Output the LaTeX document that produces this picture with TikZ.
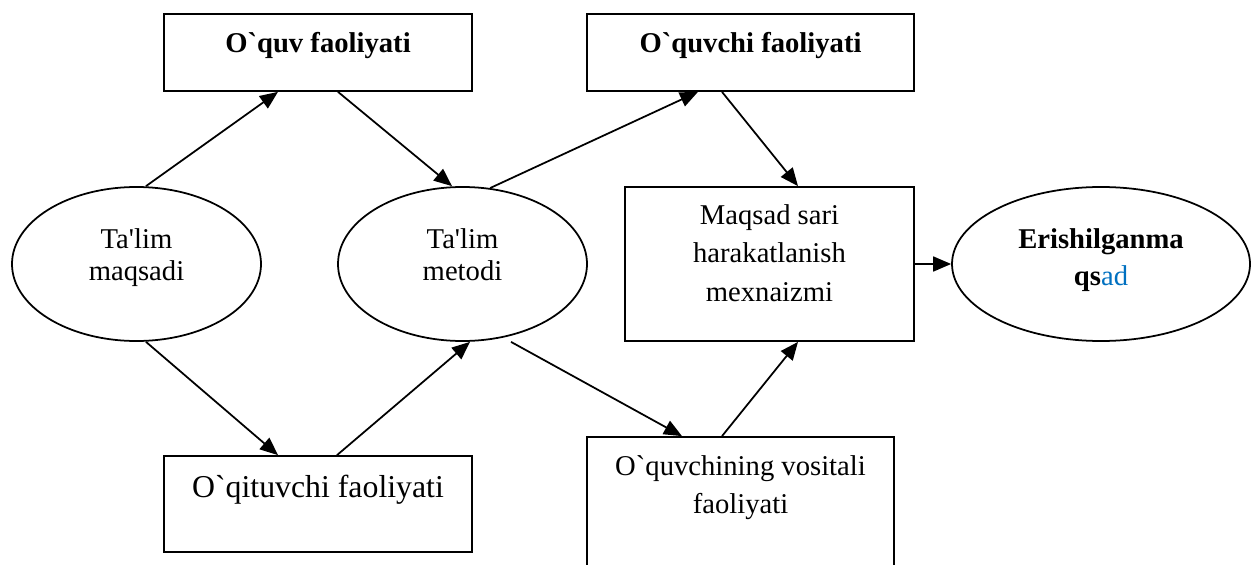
\documentclass[tikz,border=0pt]{standalone}
\usepackage{fontspec}
\setmainfont{Liberation Serif}[Ligatures=TeXOff]
\usepackage{xcolor}
\usetikzlibrary{shapes.geometric, arrows.meta}
\definecolor{wordblue}{RGB}{0,112,192}
\newcommand{\rows}[1]{\begin{tabular}[t]{@{}c@{}}#1\end{tabular}}

\begin{document}
\begin{tikzpicture}[line width=1pt,
        blok/.style = {draw, rectangle, inner sep=0pt, font={\fontsize{16.3}{22}\selectfont}},
        oval/.style = {draw, ellipse, inner sep=0pt, minimum width=4.98cm, minimum height=3.08cm, text height=0.2cm, text depth=0.84cm, font={\fontsize{16.3}{18.4}\selectfont}},
        arr/.style = {-{Triangle[length=0.36cm, width=0.3cm]}}]
        \useasboundingbox (0,0) rectangle (25.04,11.28);

        \node[oval] (m1) at (2.73,6) {\rows{Ta'lim\\maqsadi}};
        \node[oval] (m2) at (9.25,6) {\rows{Ta'lim\\metodi}};
        \node[oval, minimum width=5.96cm, font={\fontsize{16.3}{21.6}\selectfont}] (m3) at (22.02,6) {\rows{\textbf{Erishilganma}\\\textbf{qs}\textcolor{wordblue}{ad}}};

        \node[blok, minimum width=6.16cm, minimum height=1.54cm, text height=0.77cm, text depth=0.77cm] (b1) at (6.36,10.23) {\textbf{O`quv faoliyati}};
        \node[blok, minimum width=6.54cm, minimum height=1.54cm, text height=0.77cm, text depth=0.77cm] (b2) at (15.01,10.23) {\textbf{O`quvchi faoliyati}};
        \node[blok, minimum width=5.78cm, minimum height=3.08cm, text height=0.74cm, text depth=2.34cm] (b3) at (15.39,6) {\rows{Maqsad sari\\harakatlanish\\mexnaizmi}};
        \node[blok, minimum width=6.16cm, minimum height=1.92cm, text height=0.82cm, text depth=1.10cm, font={\fontsize{18.1}{22}\selectfont}] (b4) at (6.36,1.2) {O`qituvchi faoliyati};
        \node[blok, minimum width=6.14cm, minimum height=3.26cm, text height=0.76cm, text depth=2.5cm] (b5) at (14.81,0.91) {\rows{O`quvchining vositali\\faoliyati}};

        \draw[arr] ([xshift=0.19cm]m1.north) -- ([xshift=-0.8cm]b1.south);
        \draw[arr] ([xshift=0.4cm]b1.south) -- ([xshift=-0.21cm]m2.north);
        \draw[arr] (m2.70) -- ([xshift=-1.05cm]b2.south);
        \draw[arr] ([xshift=-0.57cm]b2.south) -- ([xshift=0.57cm]b3.north);
        \draw[arr] (b3.east) -- (m3.west);
        \draw[arr] ([xshift=0.19cm]m1.south) -- ([xshift=-0.8cm]b4.north);
        \draw[arr] ([xshift=0.38cm]b4.north) -- ([xshift=0.15cm]m2.south);
        \draw[arr] ([xshift=0.97cm]m2.south) -- ([xshift=-1.17cm]b5.north);
        \draw[arr] ([xshift=-0.37cm]b5.north) -- ([xshift=0.57cm]b3.south);

    \end{tikzpicture}
\end{document}
